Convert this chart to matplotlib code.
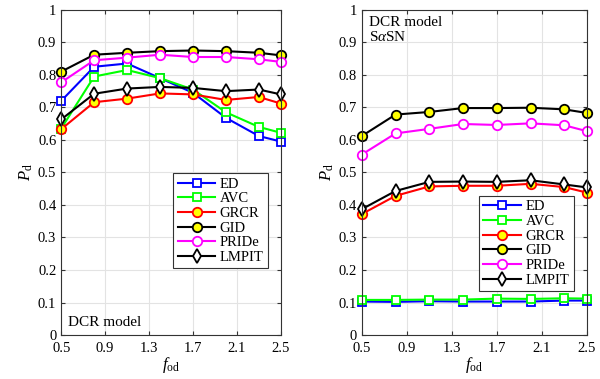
import numpy as np
import matplotlib
matplotlib.use("Agg")
import matplotlib.pyplot as plt

plt.rcParams['font.family'] = 'Liberation Serif'
plt.rcParams['mathtext.fontset'] = 'custom'
plt.rcParams['mathtext.rm'] = 'Liberation Serif'
plt.rcParams['mathtext.it'] = 'Liberation Serif:italic'
plt.rcParams['font.size'] = 10

fod = [0.5, 0.8, 1.1, 1.4, 1.7, 2.0, 2.3, 2.5]
labels = ["ED", "AVC", "GRCR", "GID", "PRIDe", "LMPIT"]

# left panel: DCR model
ed_l = [0.720, 0.825, 0.835, 0.790, 0.745, 0.668, 0.612, 0.595]
avc_l = [0.635, 0.795, 0.815, 0.790, 0.755, 0.685, 0.640, 0.622]
grcr_l = [0.633, 0.716, 0.727, 0.743, 0.740, 0.723, 0.732, 0.712]
gid_l = [0.810, 0.862, 0.868, 0.873, 0.875, 0.873, 0.868, 0.860]
pride_l = [0.777, 0.845, 0.853, 0.862, 0.855, 0.855, 0.848, 0.840]
lmpit_l = [0.663, 0.742, 0.758, 0.763, 0.760, 0.750, 0.755, 0.740]

# right panel: DCR model, SaSN
ed_r = [0.103, 0.102, 0.104, 0.103, 0.103, 0.103, 0.106, 0.106]
avc_r = [0.108, 0.108, 0.109, 0.109, 0.112, 0.111, 0.113, 0.112]
grcr_r = [0.372, 0.428, 0.457, 0.459, 0.459, 0.465, 0.455, 0.438]
gid_r = [0.612, 0.678, 0.686, 0.698, 0.698, 0.699, 0.694, 0.683]
pride_r = [0.555, 0.620, 0.634, 0.649, 0.646, 0.651, 0.645, 0.627]
lmpit_r = [0.387, 0.443, 0.471, 0.472, 0.471, 0.476, 0.463, 0.454]

styles = [
    dict(color='#0000ff', marker='s', mfc='white', mec='#0000ff'),
    dict(color='#00ff00', marker='s', mfc='white', mec='#00ff00'),
    dict(color='#ff0000', marker='o', mfc='#ffff00', mec='#ff0000'),
    dict(color='black', marker='o', mfc='#ffff00', mec='black'),
    dict(color='#ff00ff', marker='o', mfc='white', mec='#ff00ff'),
    dict(color='black', marker='d', mfc='white', mec='black'),
]

fig = plt.figure(figsize=(6, 3.79), dpi=100)
ax1 = fig.add_axes([0.102, 0.116, 0.366, 0.858])
ax2 = fig.add_axes([0.603, 0.116, 0.375, 0.858])


def draw(ax, series, loc):
    for ys, lab, st in zip(series, labels, styles):
        if st['marker'] == 'd':
            ms = 7.5
        elif st['marker'] == 's':
            ms = 6
        else:
            ms = 6.8
        ax.plot(fod, ys, lw=1.5, ms=ms, mew=1.3, label=lab, clip_on=False, **st)
    ax.set_xlim(0.5, 2.5)
    ax.set_ylim(0, 1)
    ax.set_xticks([0.5, 0.9, 1.3, 1.7, 2.1, 2.5])
    ax.set_xticklabels(["0.5", "0.9", "1.3", "1.7", "2.1", "2.5"])
    ax.set_yticks(np.arange(0, 1.01, 0.1))
    ax.set_yticklabels(["0", "0.1", "0.2", "0.3", "0.4", "0.5", "0.6", "0.7", "0.8", "0.9", "1"])
    ax.grid(True, color='#e3e3e3', lw=0.8)
    ax.set_axisbelow(True)
    ax.tick_params(direction='in', top=True, right=True, length=3, color='#333333', labelsize=10.5)
    ax.tick_params(axis='x', pad=5)
    for s in ax.spines.values():
        s.set_color('#333333')
        s.set_linewidth(0.8)
    ax.set_xlabel(r"$f_{\rm od}$", fontsize=12, labelpad=0)
    ax.set_ylabel(r"$P_{\rm d}$", fontsize=12, labelpad=2)
    leg = ax.legend(loc=loc, fontsize=10.5, handlelength=2.6, borderpad=0.3,
                    labelspacing=0.1, handletextpad=0.3, fancybox=False,
                    framealpha=1, edgecolor='#333333', borderaxespad=0)
    leg.get_frame().set_linewidth(0.8)
    leg.set_zorder(5)
    return leg


draw(ax1, [ed_l, avc_l, grcr_l, gid_l, pride_l, lmpit_l], (0.51, 0.205))
draw(ax2, [ed_r, avc_r, grcr_r, gid_r, pride_r, lmpit_r], (0.52, 0.135))

ax1.text(0.03, 0.02, "DCR model", transform=ax1.transAxes, fontsize=11, va='bottom', ha='left')
ax2.text(0.03, 0.98, "DCR model\nS$\\alpha$SN", transform=ax2.transAxes, fontsize=11, va='top', ha='left', linespacing=1.1)

plt.savefig("out.png", dpi=100)
